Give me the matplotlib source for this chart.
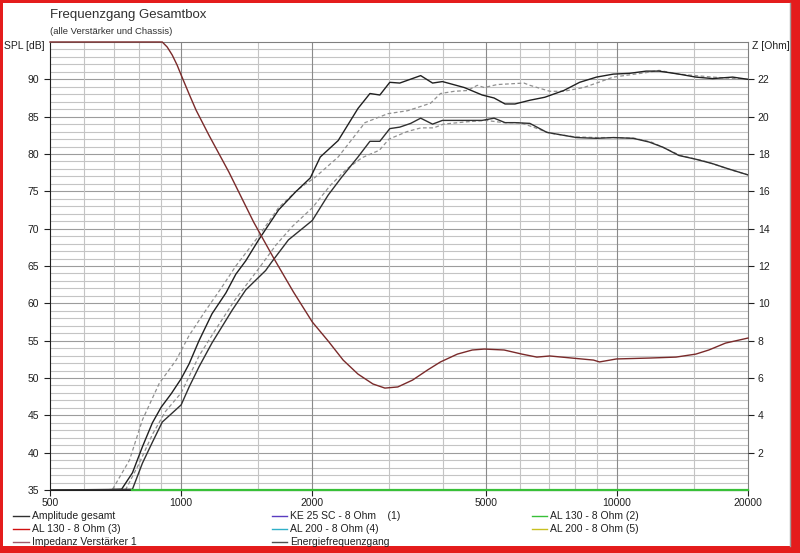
import matplotlib
matplotlib.use("Agg")
import matplotlib.pyplot as plt
from matplotlib.lines import Line2D
from matplotlib.patches import Rectangle

plt.rcParams['font.family'] = ['Liberation Sans', 'DejaVu Sans']

# Amplitude gesamt (solid, upper)
amp_f = [500, 650, 730, 773, 815, 859, 900, 949, 1000, 1043, 1099, 1177, 1267, 1335, 1407,
         1506, 1673, 1829, 1979, 2086, 2293, 2546, 2712, 2858, 3012, 3175, 3546, 3776, 3978,
         4466, 4908, 5227, 5539, 5836, 6315, 6833, 7552, 8214, 8982, 9817, 10680, 11673,
         12500, 13880, 15180, 16600, 18440, 20000]
amp_db = [35, 35, 35.1, 37.3, 40.8, 44.0, 46.1, 47.9, 49.9, 51.9, 55.0, 58.6, 61.4, 63.9, 65.7,
          68.5, 72.5, 74.9, 76.8, 79.6, 81.8, 86.1, 88.1, 87.9, 89.6, 89.5, 90.5, 89.5, 89.7,
          88.9, 87.9, 87.5, 86.7, 86.7, 87.2, 87.6, 88.5, 89.6, 90.3, 90.7, 90.8, 91.1,
          91.1, 90.7, 90.3, 90.1, 90.3, 90.0]

# Energiefrequenzgang (solid, lower)
ene_f = [500, 773, 815, 859, 905, 1000, 1043, 1099, 1177, 1310, 1407, 1563, 1612, 1763, 2000,
         2175, 2329, 2546, 2712, 2858, 3012, 3175, 3364, 3546, 3776, 3978, 4466, 4908, 5227,
         5539, 5836, 6315, 6907, 7552, 8085, 8982, 9817, 10905, 11864, 12770, 13880, 15180,
         16600, 18050, 20000]
ene_db = [35, 35.1, 38.6, 41.4, 44.1, 46.4, 48.8, 51.5, 54.7, 59.1, 61.8, 64.4, 65.5, 68.5, 71.1,
          74.5, 76.8, 79.6, 81.7, 81.7, 83.4, 83.6, 84.1, 84.8, 84.0, 84.5, 84.5, 84.5, 84.8,
          84.2, 84.2, 84.1, 82.9, 82.5, 82.2, 82.1, 82.2, 82.1, 81.6, 80.9, 79.8, 79.3,
          78.7, 78.0, 77.2]

# dashed comparison curves
cmp1_f = [696, 761, 815, 891, 974, 1043, 1140, 1241, 1335, 1506, 1673, 1858, 2032, 2293, 2642,
          2982, 3311, 3736, 3937, 4237, 4537, 4783, 4962, 5311, 6122, 6315, 7016, 7552, 8386,
          8982, 9817, 11673, 12500, 13880, 16600, 20000]
cmp1_db = [35.1, 39.0, 44.4, 49.3, 52.4, 55.7, 59.1, 62.2, 65.0, 69.0, 72.8, 75.3, 76.9, 79.6, 84.2,
           85.4, 85.8, 86.8, 88.1, 88.4, 88.5, 89.2, 88.9, 89.3, 89.5, 89.2, 88.4, 88.4, 88.9,
           89.5, 90.3, 90.9, 91.2, 90.7, 90.3, 90.0]

cmp2_f = [745, 800, 860, 920, 1000, 1100, 1200, 1330, 1500, 1650, 1800, 2000, 2200, 2400, 2600,
          2850, 3000, 3300, 3550, 3800, 4000, 4500, 5000, 5500, 6000, 6500, 7000, 8000, 9000,
          10000, 11000, 12000, 14000, 16000, 18000, 20000]
cmp2_db = [35, 38.5, 42.5, 45.5, 48, 53, 56.5, 60.5, 64.5, 67.8, 70.3, 72.8, 75.8, 78, 79.5,
           80.5, 82, 83, 83.5, 83.5, 84, 84.3, 84.5, 84.2, 84.2, 83.5, 82.8, 82.3, 82.2,
           82.2, 82.1, 81.6, 79.8, 79.0, 78.0, 77.2]

# AL 130 - 8 Ohm (2), sitting on the bottom edge
al130_2_f = [773, 20000]
al130_2_db = [35, 35]

# Impedanz Verstaerker 1 (right axis, Ohm)
imp_f = [500, 905, 929, 954, 979, 1000, 1043, 1082, 1158, 1287, 1467, 1630, 1810, 2000, 2175,
         2354, 2546, 2755, 2935, 3142, 3398, 3678, 3937, 4305, 4658, 4962, 5511, 6055, 6552,
         7015, 7873, 8840, 9124, 9976, 11925, 13670, 15180, 16260, 17760, 20000]
imp_ohm = [24, 24, 23.73, 23.3, 22.76, 22.23, 21.21, 20.35, 19.01, 17.03, 14.35, 12.43, 10.61,
           9.0, 7.98, 6.96, 6.21, 5.68, 5.46, 5.52, 5.89, 6.43, 6.86, 7.28, 7.5, 7.55, 7.5,
           7.28, 7.12, 7.18, 7.07, 6.96, 6.86, 7.02, 7.07, 7.12, 7.28, 7.5, 7.87, 8.14]

freq_ticks = [500, 1000, 2000, 5000, 10000, 20000]
freq_major_grid = [1000, 2000, 5000, 10000]
freq_minor_grid = [600, 700, 800, 900, 1500, 3000, 4000, 6000, 7000, 8000, 9000, 15000]

legend_cols = [
    [("Amplitude gesamt", "#303030"), ("AL 130 - 8 Ohm (3)", "#d01010"), ("Impedanz Verstärker 1", "#a05a6a")],
    [("KE 25 SC - 8 Ohm    (1)", "#5a3cc0"), ("AL 200 - 8 Ohm (4)", "#30b0c8"), ("Energiefrequenzgang", "#505050")],
    [("AL 130 - 8 Ohm (2)", "#38c038"), ("AL 200 - 8 Ohm (5)", "#c8c020")],
]

W, H = 800, 553
fig = plt.figure(figsize=(8, 5.53), dpi=100)
fig.patch.set_facecolor('white')

ax = fig.add_axes([50 / W, 1 - 490 / H, 698 / W, 448 / H])
ax.set_xscale('log')
ax.set_xlim(500, 20000)
ax.set_ylim(35, 95)

# grid
for v in range(36, 95):
    ax.axhline(v, color='#c4c4c4' if v % 5 else '#9c9c9c', lw=0.8, zorder=0)
for f in freq_minor_grid:
    ax.axvline(f, color='#c4c4c4', lw=0.8, zorder=0)
for f in freq_major_grid:
    ax.axvline(f, color='#8a8a8a', lw=0.8, zorder=0)

ax.plot(cmp1_f, cmp1_db, color='#909090', lw=0.9, ls=(0, (3, 2)), zorder=2)
ax.plot(cmp2_f, cmp2_db, color='#909090', lw=0.9, ls=(0, (3, 2)), zorder=2)
ax.plot(amp_f, amp_db, color='#202020', lw=1.0, zorder=3)
ax.plot(ene_f, ene_db, color='#303030', lw=1.0, zorder=3)
ax.plot(al130_2_f, al130_2_db, color='#38c038', lw=1.6, zorder=4, clip_on=False)

ax.set_xticks(freq_ticks)
ax.set_xticklabels([str(f) for f in freq_ticks])
ax.minorticks_off()
ax.set_yticks(range(35, 91, 5))
ax.tick_params(axis='both', direction='out', length=4, width=0.8, labelsize=7.5,
               colors='#202020', pad=2)
ax.tick_params(axis='y', pad=4)
for s in ['top', 'right']:
    ax.spines[s].set_color('#808080')
for s in ['left', 'bottom']:
    ax.spines[s].set_color('#202020')

ax2 = ax.twinx()
ax2.set_ylim(0, 24)
ax2.plot(imp_f, imp_ohm, color='#7a2a2a', lw=1.0, clip_on=False, zorder=5)
ax2.set_yticks(range(2, 23, 2))
ax2.tick_params(axis='y', direction='out', length=4, width=0.8, labelsize=7.5,
                colors='#202020', pad=3)
for s in ax2.spines.values():
    s.set_visible(False)

# texts
fig.text(50 / W, 1 - 15 / H, "Frequenzgang Gesamtbox", fontsize=9.5, color='#303030',
         ha='left', va='center')
fig.text(50 / W, 1 - 32 / H, "(alle Verstärker und Chassis)", fontsize=6.8, color='#303030',
         ha='left', va='center')
fig.text(45 / W, 1 - 46 / H, "SPL [dB]", fontsize=7.5, color='#202020', ha='right', va='center')
fig.text(752 / W, 1 - 46 / H, "Z [Ohm]", fontsize=7.5, color='#202020', ha='left', va='center')

# legend below the plot
col_x = [(13, 29, 32), (272, 287, 290), (532, 547, 550)]
row_y = [516, 529, 542]
for (x0, x1, xt), col in zip(col_x, legend_cols):
    for y, (label, c) in zip(row_y, col):
        fig.add_artist(Line2D([x0 / W, x1 / W], [1 - y / H, 1 - y / H], color=c, lw=1.0,
                              transform=fig.transFigure))
        fig.text(xt / W, 1 - y / H, label, fontsize=7.5, color='#202020', ha='left', va='center')

# red window frame
red = '#e41c1c'
for r in [(0, 0, 3, H), (0, 0, W, 3), (0, H - 7, W, 7), (W - 9, 0, 9, H)]:
    fig.add_artist(Rectangle((r[0] / W, 1 - (r[1] + r[3]) / H), r[2] / W, r[3] / H,
                             transform=fig.transFigure, color=red, lw=0))
fig.add_artist(Line2D([(W - 10) / W] * 2, [7 / H, 1 - 3 / H], color='#a0a0a0', lw=1,
                      transform=fig.transFigure))

fig.savefig("out.png", dpi=100)
